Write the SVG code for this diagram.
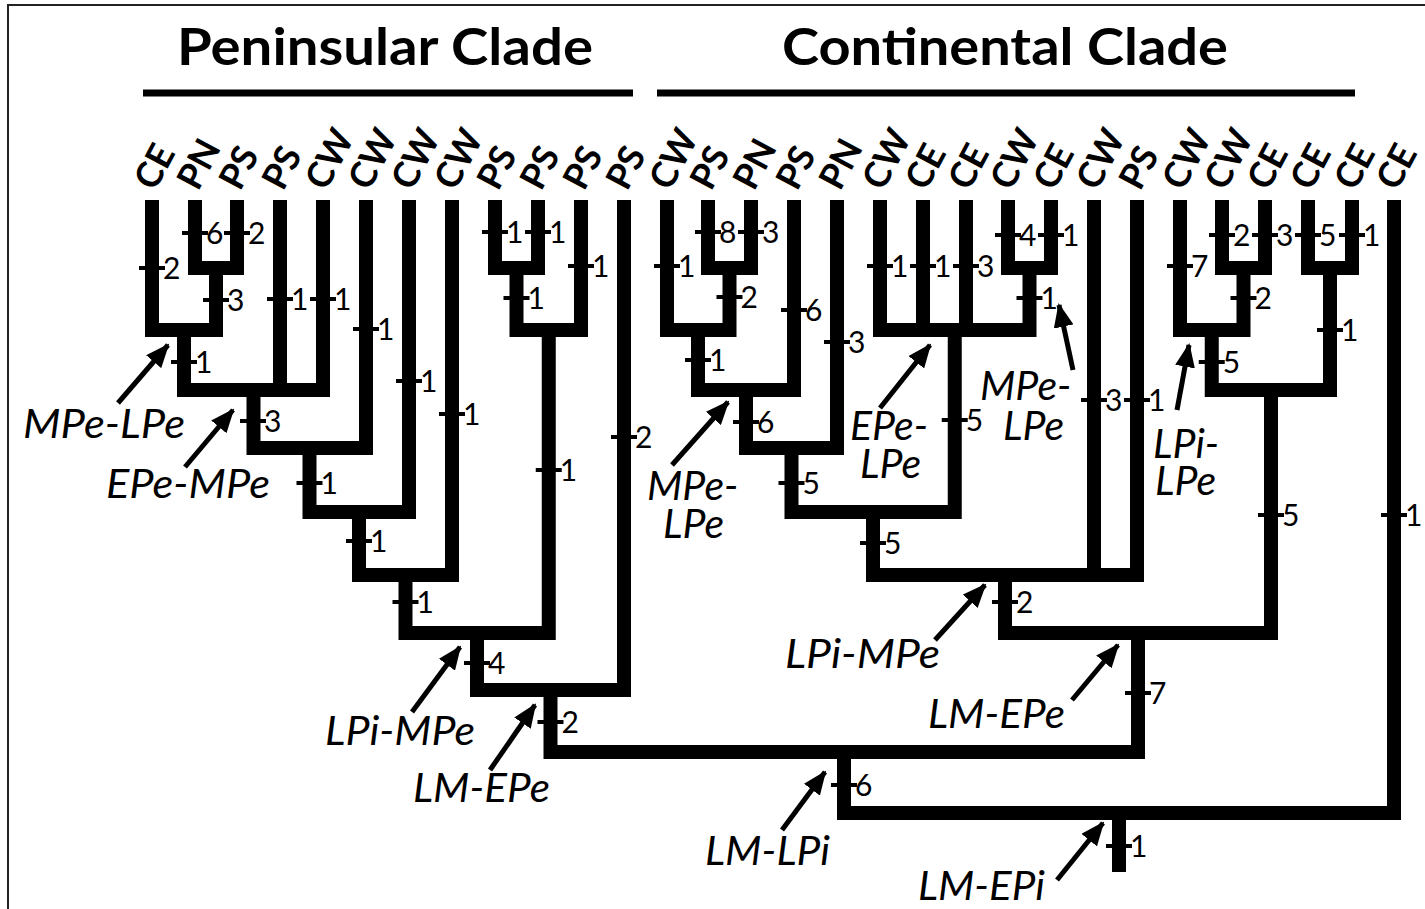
<svg xmlns="http://www.w3.org/2000/svg" width="1425" height="909" viewBox="0 0 1425 909">
<style>
.br{fill:none;stroke:#000;stroke-width:14;stroke-linejoin:miter;stroke-linecap:butt}
.tk{stroke:#000;stroke-width:4}
.n{font-family:Lato,"Liberation Sans",sans-serif;font-size:30px;fill:#000}
.lf{font-family:Lato,"Liberation Sans",sans-serif;font-weight:bold;font-size:36px;fill:#000}
.ttl{font-family:Lato,"Liberation Sans",sans-serif;font-weight:bold;font-size:52px;fill:#000}
.lab{font-family:Lato,"Liberation Sans",sans-serif;font-style:italic;font-size:41px;fill:#000}
.ar{stroke:#000;stroke-width:5;fill:none;marker-end:url(#ah)}
.ul{stroke:#000;stroke-width:7}
</style>
<defs>
<marker id="ah" markerUnits="userSpaceOnUse" viewBox="0 0 24 20" markerWidth="24" markerHeight="20" refX="22" refY="10" orient="auto">
<path d="M0,0 L24,10 L0,20 z" fill="#000"/>
</marker>
</defs>
<rect width="1425" height="909" fill="#fff"/>
<path d="M8,909 V5 H1425" fill="none" stroke="#222" stroke-width="2"/>

<g id="titles">
<text class="ttl" x="177" y="65" textLength="416" lengthAdjust="spacingAndGlyphs">Peninsular Clade</text>
<line class="ul" x1="143" y1="93" x2="633" y2="93"/>
<text class="ttl" x="782" y="65" textLength="446" lengthAdjust="spacingAndGlyphs">Continental Clade</text>
<line class="ul" x1="657" y1="93" x2="1355" y2="93"/>
</g>

<g id="leaves">
<g id="P1"><text class="lf" transform="translate(155,192) rotate(-62)">CE</text></g>
<g id="P2"><text class="lf" transform="translate(198,192) rotate(-62)">PN</text></g>
<g id="P3"><text class="lf" transform="translate(240,192) rotate(-62)">PS</text></g>
<g id="P4"><text class="lf" transform="translate(283,192) rotate(-62)">PS</text></g>
<g id="P5"><text class="lf" transform="translate(326,192) rotate(-62)">CW</text></g>
<g id="P6"><text class="lf" transform="translate(369,192) rotate(-62)">CW</text></g>
<g id="P7"><text class="lf" transform="translate(412,192) rotate(-62)">CW</text></g>
<g id="P8"><text class="lf" transform="translate(455,192) rotate(-62)">CW</text></g>
<g id="P9"><text class="lf" transform="translate(498,192) rotate(-62)">PS</text></g>
<g id="P10"><text class="lf" transform="translate(541,192) rotate(-62)">PS</text></g>
<g id="P11"><text class="lf" transform="translate(584,192) rotate(-62)">PS</text></g>
<g id="P12"><text class="lf" transform="translate(627,192) rotate(-62)">PS</text></g>
<g id="C1"><text class="lf" transform="translate(670,192) rotate(-62)">CW</text></g>
<g id="C2"><text class="lf" transform="translate(711,192) rotate(-62)">PS</text></g>
<g id="C3"><text class="lf" transform="translate(754,192) rotate(-62)">PN</text></g>
<g id="C4"><text class="lf" transform="translate(797,192) rotate(-62)">PS</text></g>
<g id="C5"><text class="lf" transform="translate(840,192) rotate(-62)">PN</text></g>
<g id="C6"><text class="lf" transform="translate(883,192) rotate(-62)">CW</text></g>
<g id="C7"><text class="lf" transform="translate(926,192) rotate(-62)">CE</text></g>
<g id="C8"><text class="lf" transform="translate(969,192) rotate(-62)">CE</text></g>
<g id="C9"><text class="lf" transform="translate(1011,192) rotate(-62)">CW</text></g>
<g id="C10"><text class="lf" transform="translate(1054,192) rotate(-62)">CE</text></g>
<g id="C11"><text class="lf" transform="translate(1097,192) rotate(-62)">CW</text></g>
<g id="C12"><text class="lf" transform="translate(1140,192) rotate(-62)">PS</text></g>
<g id="C13"><text class="lf" transform="translate(1183,192) rotate(-62)">CW</text></g>
<g id="C14"><text class="lf" transform="translate(1225,192) rotate(-62)">CW</text></g>
<g id="C15"><text class="lf" transform="translate(1268,192) rotate(-62)">CE</text></g>
<g id="C16"><text class="lf" transform="translate(1311,192) rotate(-62)">CE</text></g>
<g id="C17"><text class="lf" transform="translate(1355,192) rotate(-62)">CE</text></g>
<g id="C18"><text class="lf" transform="translate(1397,192) rotate(-62)">CE</text></g>
</g>

<g id="connectors">
<path class="br" d="M195,200 V268 H237 V200"/>
<path class="br" d="M152,200 V330 H216 V268"/>
<path class="br" d="M184,330 V390 H323 V200 M280,200 V390"/>
<path class="br" d="M253.5,390 V448 H366 V200"/>
<path class="br" d="M309.5,448 V512 H409 V200"/>
<path class="br" d="M359,512 V575 H452 V200"/>
<path class="br" d="M495,200 V268 H538 V200"/>
<path class="br" d="M516.5,268 V330 H581 V200"/>
<path class="br" d="M405.5,575 V633 H548.75 V330"/>
<path class="br" d="M477,633 V690 H624 V200"/>
<path class="br" d="M708,200 V268 H751 V200"/>
<path class="br" d="M667,200 V330 H729.5 V268"/>
<path class="br" d="M698,330 V390 H794 V200"/>
<path class="br" d="M746,390 V448 H837 V200"/>
<path class="br" d="M1008,200 V268 H1051 V200"/>
<path class="br" d="M880,200 V330 H1029.5 V268 M923,200 V330 M966,200 V330"/>
<path class="br" d="M791.5,448 V512 H954.75 V330"/>
<path class="br" d="M873,512 V575 H1137 V200 M1094,200 V575"/>
<path class="br" d="M1222,200 V268 H1265 V200"/>
<path class="br" d="M1180,200 V330 H1243.5 V268"/>
<path class="br" d="M1308,200 V268 H1352 V200"/>
<path class="br" d="M1211.75,330 V390 H1330 V268"/>
<path class="br" d="M1005,575 V633 H1271 V390"/>
<path class="br" d="M550.5,690 V752 H1138 V633"/>
<path class="br" d="M844,752 V813 H1394 V200"/>
<path class="br" d="M1119,813 V872"/>
</g>

<g id="ticks">
<path class="tk" d="M139,268h26 M182,233h26 M224,233h26 M203,300h26 M171,362h26 M267,299h26 M310,299h26 M240,421h26 M353,329h26 M296.5,483h26 M396,381h26 M346,541h26 M439,414h26 M392.5,602h26 M482,232h26 M525,232h26 M503.5,298h26 M568,266h26 M535.75,470h26 M611,437h26 M464,663h26 M537.5,722h26"/>
<path class="tk" d="M654,266h26 M695,232h26 M738,232h26 M716.5,297h26 M685,360h26 M781,310h26 M733,422h26 M824,342h26 M778.5,483h26 M867,266h26 M910,266h26 M953,266h26 M995,235h26 M1038,235h26 M1016.5,298h26 M941.75,420h26 M860,543h26 M1081,400h26 M1124,400h26 M992,602h26 M1167,266h26 M1209,235h26 M1252,235h26 M1230.5,298h26 M1198.75,362h26 M1295,235h26 M1339,235h26 M1317,330h26 M1258,515h26 M1125,693h26 M1381,515h26 M831,785h26 M1106,846h26"/>
</g>
<g id="counts">
<text class="n" x="163" y="279">2</text>
<text class="n" x="206" y="244">6</text>
<text class="n" x="248" y="244">2</text>
<text class="n" x="227" y="311">3</text>
<text class="n" x="195" y="373">1</text>
<text class="n" x="291" y="310">1</text>
<text class="n" x="334" y="310">1</text>
<text class="n" x="264" y="432">3</text>
<text class="n" x="377" y="340">1</text>
<text class="n" x="320.5" y="494">1</text>
<text class="n" x="420" y="392">1</text>
<text class="n" x="370" y="552">1</text>
<text class="n" x="463" y="425">1</text>
<text class="n" x="416.5" y="613">1</text>
<text class="n" x="506" y="243">1</text>
<text class="n" x="549" y="243">1</text>
<text class="n" x="527.5" y="309">1</text>
<text class="n" x="592" y="277">1</text>
<text class="n" x="559.75" y="481">1</text>
<text class="n" x="635" y="448">2</text>
<text class="n" x="488" y="674">4</text>
<text class="n" x="561.5" y="733">2</text>
<text class="n" x="678" y="277">1</text>
<text class="n" x="719" y="243">8</text>
<text class="n" x="762" y="243">3</text>
<text class="n" x="740.5" y="308">2</text>
<text class="n" x="709" y="371">1</text>
<text class="n" x="805" y="321">6</text>
<text class="n" x="757" y="433">6</text>
<text class="n" x="848" y="353">3</text>
<text class="n" x="802.5" y="494">5</text>
<text class="n" x="891" y="277">1</text>
<text class="n" x="934" y="277">1</text>
<text class="n" x="977" y="277">3</text>
<text class="n" x="1019" y="246">4</text>
<text class="n" x="1062" y="246">1</text>
<text class="n" x="1040.5" y="309">1</text>
<text class="n" x="965.75" y="431">5</text>
<text class="n" x="884" y="554">5</text>
<text class="n" x="1105" y="411">3</text>
<text class="n" x="1148" y="411">1</text>
<text class="n" x="1016" y="613">2</text>
<text class="n" x="1191" y="277">7</text>
<text class="n" x="1233" y="246">2</text>
<text class="n" x="1276" y="246">3</text>
<text class="n" x="1254.5" y="309">2</text>
<text class="n" x="1222.75" y="373">5</text>
<text class="n" x="1319" y="246">5</text>
<text class="n" x="1363" y="246">1</text>
<text class="n" x="1341" y="341">1</text>
<text class="n" x="1282" y="526">5</text>
<text class="n" x="1149" y="704">7</text>
<text class="n" x="1405" y="526">1</text>
<text class="n" x="855" y="796">6</text>
<text class="n" x="1130" y="857">1</text>
</g>

<g id="annotations">
<line class="ar" x1="118" y1="403" x2="168" y2="345"/>
<text class="lab" x="23" y="438" textLength="162" lengthAdjust="spacingAndGlyphs">MPe-LPe</text>
<line class="ar" x1="185" y1="467" x2="233" y2="410"/>
<text class="lab" x="106" y="498" textLength="164" lengthAdjust="spacingAndGlyphs">EPe-MPe</text>
<line class="ar" x1="412" y1="712" x2="460" y2="647"/>
<text class="lab" x="325" y="745" textLength="150" lengthAdjust="spacingAndGlyphs">LPi-MPe</text>
<line class="ar" x1="490" y1="770" x2="535" y2="705"/>
<text class="lab" x="413" y="802" textLength="137" lengthAdjust="spacingAndGlyphs">LM-EPe</text>
<line class="ar" x1="672" y1="465" x2="728" y2="402"/>
<text class="lab"><tspan x="647" y="500">MPe-</tspan><tspan x="663" y="538">LPe</tspan></text>
<line class="ar" x1="880" y1="408" x2="930" y2="345"/>
<text class="lab"><tspan x="850" y="440">EPe-</tspan><tspan x="860" y="478">LPe</tspan></text>
<line class="ar" x1="1073" y1="370" x2="1059" y2="305"/>
<text class="lab"><tspan x="980" y="400">MPe-</tspan><tspan x="1003" y="440">LPe</tspan></text>
<line class="ar" x1="1177" y1="410" x2="1189" y2="345"/>
<text class="lab"><tspan x="1153" y="458">LPi-</tspan><tspan x="1155" y="495">LPe</tspan></text>
<line class="ar" x1="935" y1="640" x2="985" y2="585"/>
<text class="lab" x="785" y="668" textLength="155" lengthAdjust="spacingAndGlyphs">LPi-MPe</text>
<line class="ar" x1="1072" y1="700" x2="1118" y2="645"/>
<text class="lab" x="928" y="728" textLength="137" lengthAdjust="spacingAndGlyphs">LM-EPe</text>
<line class="ar" x1="782" y1="830" x2="825" y2="772"/>
<text class="lab" x="705" y="865" textLength="125" lengthAdjust="spacingAndGlyphs">LM-LPi</text>
<line class="ar" x1="1057" y1="880" x2="1103" y2="823"/>
<text class="lab" x="918" y="900" textLength="127" lengthAdjust="spacingAndGlyphs">LM-EPi</text>
</g>
</svg>
